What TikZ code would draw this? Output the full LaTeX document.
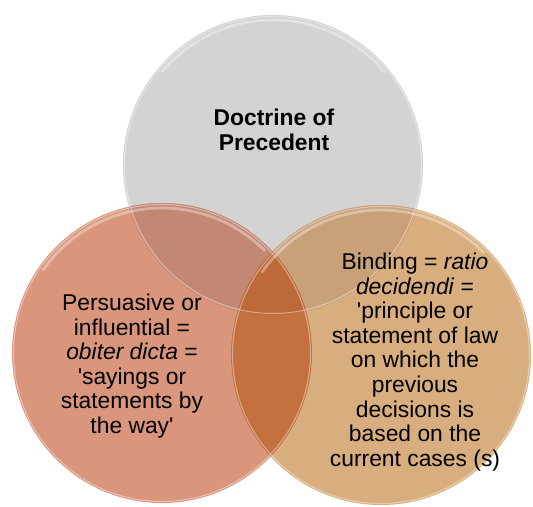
\documentclass[tikz,border=0pt]{standalone}
\usepackage{fontspec}
\setmainfont{Liberation Sans}
\definecolor{topgray}{RGB}{211,211,211}
\definecolor{leftsalmon}{RGB}{217,150,125}
\definecolor{righttan}{RGB}{217,174,126}
\definecolor{tlover}{RGB}{195,136,116}
\definecolor{trover}{RGB}{200,161,121}
\definecolor{lrover}{RGB}{196,112,63}
\definecolor{allover}{RGB}{190,105,58}
\tikzset{
  rim/.style={white,opacity=0.4,line width=0.6pt},
  gloss/.style={white,opacity=0.35,line width=1.6pt,line cap=round},
  vtext/.style={align=center,font=\fontsize{13}{14}\selectfont,inner sep=0pt}
}

\begin{document}
\begin{tikzpicture}
\useasboundingbox (0,0) rectangle (10.66,10.12);
%\draw[step=0.5cm,gray,very thin] (0,0) grid (10.66,10.12); %background grid

\fill[topgray]    (5.46,6.82) circle (3);   %top
\fill[leftsalmon] (3.24,3.06) circle (3);   %left
\fill[righttan]   (7.62,3.02) circle (3);   %right

\begin{scope}
  \clip (5.46,6.82) circle (3);
  \fill[tlover] (3.24,3.06) circle (3);
  \fill[trover] (7.62,3.02) circle (3);
\end{scope}
\begin{scope}
  \clip (3.24,3.06) circle (3);
  \fill[lrover] (7.62,3.02) circle (3);
  \clip (5.46,6.82) circle (3);
  \fill[allover] (7.62,3.02) circle (3);
\end{scope}

% rims and gloss
\draw[rim] (5.46,6.82) circle (2.97);
\draw[rim] (3.24,3.06) circle (2.97);
\draw[rim] (7.62,3.02) circle (2.97);
\draw[gloss] (5.46,6.82) ++(140:2.9) arc (140:40:2.9);
\draw[gloss] (3.24,3.06) ++(145:2.9) arc (145:45:2.9);
\draw[gloss] (7.62,3.02) ++(145:2.9) arc (145:45:2.9);

\node[vtext,font=\fontsize{13}{14}\selectfont\bfseries] (doctrine) at (5.48,7.52)
  {Doctrine of\\Precedent};
\node[vtext] (persuasive) at (2.64,2.80)
  {Persuasive or\\influential =\\\textit{obiter dicta} =\\\textquotesingle sayings or\\statements by\\the way\textquotesingle};
\node[vtext] (binding) at (8.30,2.88)
  {Binding = \textit{ratio}\\\textit{decidendi} =\\\textquotesingle principle or\\statement of law\\on which the\\previous\\decisions is\\based on the\\current cases (s)};

\end{tikzpicture}
\end{document}
